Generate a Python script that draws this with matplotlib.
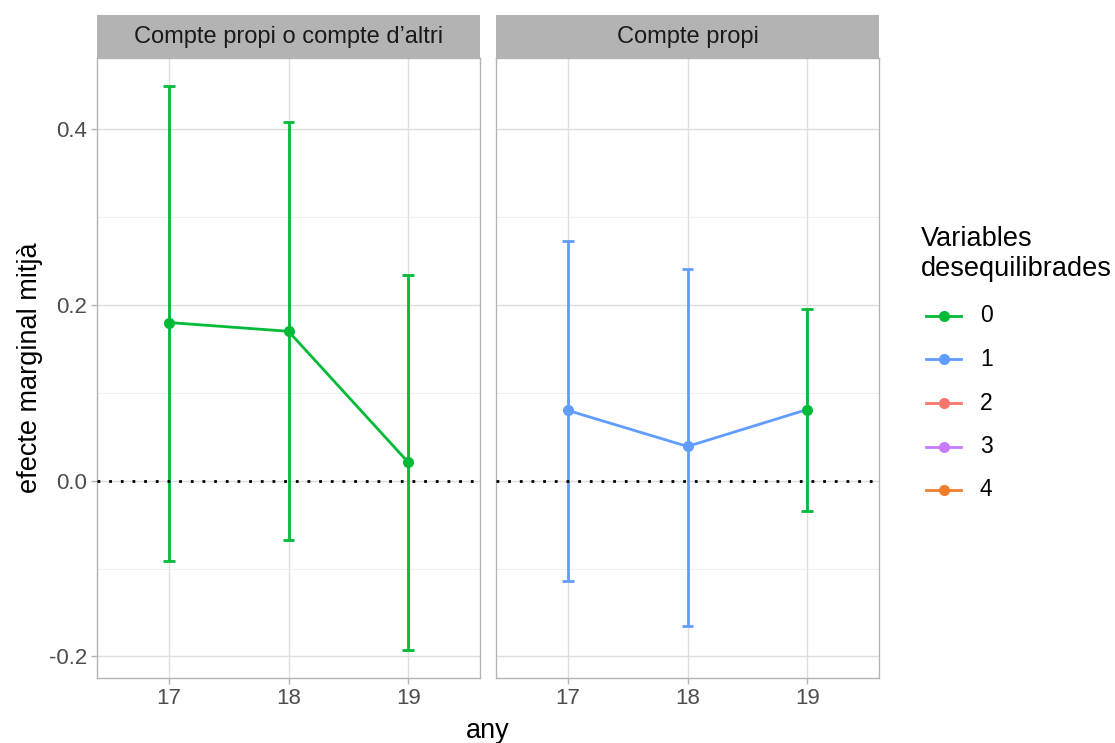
import matplotlib.pyplot as plt
from matplotlib.lines import Line2D

plt.rcParams["font.family"] = ["Liberation Sans", "DejaVu Sans"]

years = ["17", "18", "19"]
facets = ["Compte propi o compte d\u2019altri", "Compte propi"]
estimate = [[0.180, 0.170, 0.021], [0.080, 0.039, 0.081]]
lower = [[-0.091, -0.067, -0.193], [-0.114, -0.165, -0.034]]
upper = [[0.449, 0.408, 0.234], [0.273, 0.241, 0.195]]
group = [[0, 0, 0], [1, 1, 0]]
legend_labels = ["0", "1", "2", "3", "4"]
palette = ["#00BA38", "#619CFF", "#F8766D", "#C77CFF", "#F07E2E"]

W, H = 1115, 743
fig = plt.figure(figsize=(W / 100, H / 100), dpi=100)

grid_col = "#DEDEDE"
border_col = "#B3B3B3"
tick_col = "#4D4D4D"

panel_x = [97, 496]
panel_w = 383
top, bottom = 58, 678
strip_top = 15

for k in range(2):
    ax = fig.add_axes([panel_x[k] / W, 1 - bottom / H, panel_w / W, (bottom - top) / H])
    xs = list(range(len(years)))
    for i in xs:
        c = palette[group[k][i]]
        ax.plot([i, i], [lower[k][i], upper[k][i]], color=c, lw=2, zorder=3, solid_capstyle="butt")
        for yv in (lower[k][i], upper[k][i]):
            ax.plot([i - 0.05, i + 0.05], [yv, yv], color=c, lw=2, zorder=3, solid_capstyle="butt")
    # line segments take the colour of their starting point
    for i in xs[:-1]:
        c = palette[group[k][i]]
        ax.plot([i, i + 1], [estimate[k][i], estimate[k][i + 1]], color=c, lw=2, zorder=4)
    for i in xs:
        ax.plot(i, estimate[k][i], "o", color=palette[group[k][i]], ms=8, zorder=5, mec="none")
    ax.axhline(0, color="black", lw=2, ls=(0, (1, 3.2)), zorder=6)

    ax.set_xlim(-0.6, 2.6)
    ax.set_ylim(-0.2245, 0.481)
    ax.set_xticks(xs)
    ax.set_xticklabels(years)
    ax.set_yticks([-0.2, 0.0, 0.2, 0.4])
    ax.set_yticks([-0.1, 0.1, 0.3], minor=True)
    ax.grid(True, which="major", color=grid_col, lw=1.0, zorder=0)
    ax.grid(True, which="minor", axis="y", color="#EFEFEF", lw=0.8, zorder=0)
    ax.set_axisbelow(True)
    for s in ax.spines.values():
        s.set_color(border_col)
        s.set_linewidth(1.0)
    ax.tick_params(which="major", length=4, color=border_col, labelcolor=tick_col, labelsize=16,
                   width=1, pad=3)
    ax.tick_params(which="minor", length=0)
    if k == 0:
        ax.set_yticklabels(["-0.2", "0.0", "0.2", "0.4"])
    else:
        ax.tick_params(axis="y", which="both", left=False, labelleft=False)

    sax = fig.add_axes([panel_x[k] / W, 1 - top / H, panel_w / W, (top - strip_top) / H])
    sax.set_facecolor("#B3B3B3")
    sax.set_xticks([])
    sax.set_yticks([])
    for s in sax.spines.values():
        s.set_visible(False)
    sax.text(0.5, 0.5, facets[k], ha="center", va="center", fontsize=17, color="#1A1A1A",
             transform=sax.transAxes)

fig.text(488 / W, 1 - 731 / H, "any", ha="center", va="center", fontsize=19.5)
fig.text(30 / W, 1 - 368 / H, "efecte marginal mitjà", ha="center", va="center", fontsize=19.5,
         rotation=90)

# legend
fig.text(921 / W, 1 - 254 / H, "Variables\ndesequilibrades", ha="left", va="center",
         fontsize=19.5, linespacing=1.22)
for j, lab in enumerate(legend_labels):
    yy = 1 - (316 + j * 43.5) / H
    fig.add_artist(Line2D([926 / W, 961 / W], [yy, yy], color=palette[j], lw=2,
                          transform=fig.transFigure))
    fig.add_artist(Line2D([943.5 / W], [yy], color=palette[j], marker="o", ms=8, mec="none",
                          transform=fig.transFigure))
    fig.text(980 / W, yy, lab, ha="left", va="center", fontsize=16.5)

fig.savefig("out.png", dpi=100)
